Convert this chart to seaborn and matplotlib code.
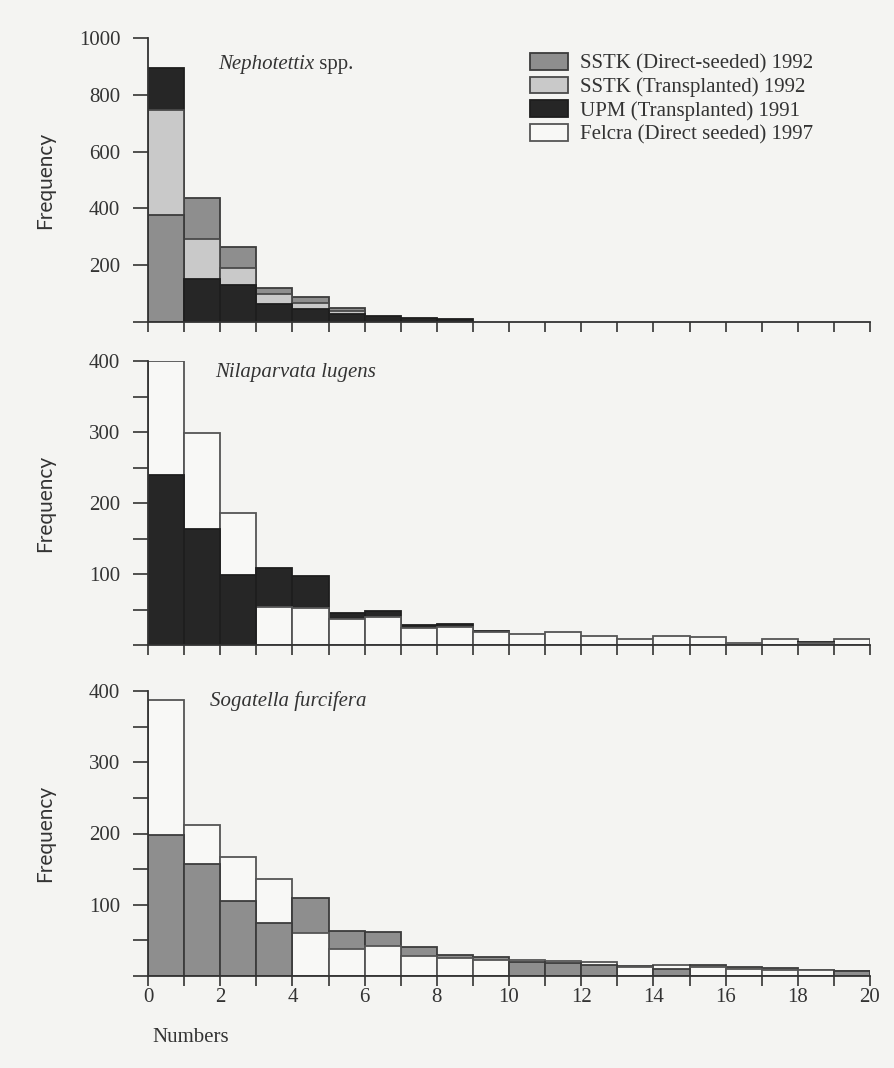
import numpy as np
import pandas as pd
import matplotlib
matplotlib.use("Agg")
import matplotlib.pyplot as plt
from matplotlib.patches import Patch
import seaborn as sns

# bin starts (numbers of insects per unit), one bin per integer 0..19
numbers = list(range(20))

# Nephotettix spp.
neph_sstk_direct = [376, 435, 265, 120, 88, 49, 0, 0, 0, 0, 0, 0, 0, 0, 0, 0, 0, 0, 0, 0]
neph_sstk_trans = [747, 294, 191, 100, 68, 38, 0, 0, 0, 0, 0, 0, 0, 0, 0, 0, 0, 0, 0, 0]
neph_upm = [896, 153, 129, 62, 45, 28, 20, 13, 11, 0, 0, 0, 0, 0, 0, 0, 0, 0, 0, 0]

# Nilaparvata lugens
nil_felcra = [400, 298, 186, 54, 52, 37, 39, 24, 26, 18, 16, 19, 12, 8, 13, 11, 3, 8, 3, 8]
nil_upm = [239, 163, 99, 108, 97, 45, 48, 28, 29, 20, 0, 0, 0, 0, 0, 0, 0, 0, 4, 0]

# Sogatella furcifera
sog_felcra = [388, 212, 167, 136, 61, 38, 42, 28, 25, 22, 22, 21, 20, 12, 16, 13, 10, 9, 8, 7]
sog_sstk_direct = [198, 157, 105, 75, 110, 63, 62, 41, 30, 27, 20, 18, 15, 14, 10, 15, 12, 11, 9, 7]

labels = ["SSTK (Direct-seeded) 1992", "SSTK (Transplanted) 1992",
          "UPM (Transplanted) 1991", "Felcra (Direct seeded) 1997"]

face = {labels[0]: "#8e8e8e", labels[1]: "#c9c9c9", labels[2]: "#262626", labels[3]: "#f8f8f6"}
edge = {labels[0]: "#3c3c3c", labels[1]: "#4a4a4a", labels[2]: "#1e1e1e", labels[3]: "#555555"}

paper = "#f4f4f2"
ink = "#333333"
serif = ["Liberation Serif", "DejaVu Serif"]

sns.set_theme(style="ticks")
plt.rcParams["font.family"] = serif


def draw_panel(ax, series):
    per_series = []
    for name, counts in series:
        df = pd.DataFrame({"mid": np.array(numbers) + 0.5, "count": counts})
        n0 = len(ax.patches)
        sns.histplot(data=df, x="mid", weights="count", binwidth=1, binrange=(0, 20),
                     ax=ax, color=face[name], edgecolor=edge[name], linewidth=1.3, alpha=1)
        per_series.append(ax.patches[n0:])
    # shorter bars sit in front of taller ones in every bin
    for i in range(len(numbers)):
        bars = sorted([p[i] for p in per_series], key=lambda b: -b.get_height())
        for z, b in enumerate(bars):
            b.set_zorder(2 + 0.1 * z)
            if b.get_height() == 0:
                b.set_visible(False)


def style_axes(ax, ymax, ymajor, yminor, xlabels):
    ax.set_facecolor(paper)
    ax.set_xlim(0, 20)
    ax.set_ylim(0, ymax)
    sns.despine(ax=ax)
    for s in ["left", "bottom"]:
        ax.spines[s].set_color(ink)
        ax.spines[s].set_linewidth(1.3)
        ax.spines[s].set_zorder(5)
    ax.set_yticks(ymajor)
    ax.set_yticklabels([""] + [str(v) for v in ymajor[1:]])
    ax.set_yticks(yminor, minor=True)
    if xlabels:
        ax.set_xticks(range(0, 21, 2))
        ax.set_xticklabels([str(v) for v in range(0, 21, 2)])
        ax.set_xticks(range(1, 21, 2), minor=True)
    else:
        ax.set_xticks(range(0, 21))
        ax.set_xticklabels([])
    ax.tick_params(axis="y", which="both", length=11, width=1.2, color=ink,
                   pad=9, labelsize=15, labelcolor=ink)
    ax.tick_params(axis="x", which="both", length=7, width=1.2, color=ink,
                   pad=2, labelsize=15, labelcolor=ink)
    ax.set_xlabel("")
    ax.set_ylabel("Frequency", family=["Lato", "DejaVu Sans"], fontsize=15, color=ink)
    ax.yaxis.set_label_coords(-0.128, 0.5)


fig = plt.figure(figsize=(8.94, 10.68), dpi=100, facecolor=paper)
left, width = 148 / 894, 722 / 894
ax1 = fig.add_axes([left, 1 - 322 / 1068, width, 284 / 1068])
ax2 = fig.add_axes([left, 1 - 645 / 1068, width, 284 / 1068])
ax3 = fig.add_axes([left, 1 - 976 / 1068, width, 285 / 1068])

draw_panel(ax1, [(labels[0], neph_sstk_direct), (labels[1], neph_sstk_trans), (labels[2], neph_upm)])
draw_panel(ax2, [(labels[3], nil_felcra), (labels[2], nil_upm)])
draw_panel(ax3, [(labels[3], sog_felcra), (labels[0], sog_sstk_direct)])

style_axes(ax1, 1000, list(range(0, 1001, 200)), [], False)
style_axes(ax2, 400, [0, 100, 200, 300, 400], [50, 150, 250, 350], False)
style_axes(ax3, 400, [0, 100, 200, 300, 400], [50, 150, 250, 350], True)

title_kw = dict(fontsize=15, color=ink, va="center", ha="left")
genus = ax1.text(0.097, 0.905, "Nephotettix", style="italic", transform=ax1.transAxes, **title_kw)
ax1.annotate(" spp.", xy=(1, 0.5), xycoords=genus, **title_kw)
ax2.text(0.093, 0.958, "Nilaparvata lugens", style="italic", transform=ax2.transAxes, **title_kw)
ax3.text(0.086, 0.965, "Sogatella furcifera", style="italic", transform=ax3.transAxes, **title_kw)

handles = [Patch(facecolor=face[l], edgecolor=edge[l], linewidth=1.3) for l in labels]
ax1.legend(handles, labels, loc="upper left", bbox_to_anchor=(530 / 894, 1 - 53 / 1068),
           bbox_transform=fig.transFigure, frameon=False, fontsize=15,
           handlelength=1.8, handleheight=0.85, handletextpad=0.6,
           labelspacing=0.15, borderpad=0, borderaxespad=0, labelcolor=ink)

fig.text(152 / 894, 1 - 1038 / 1068, "Numbers", fontsize=15, color=ink, va="center", ha="left")

fig.savefig("out.png", dpi=100, facecolor=paper)
